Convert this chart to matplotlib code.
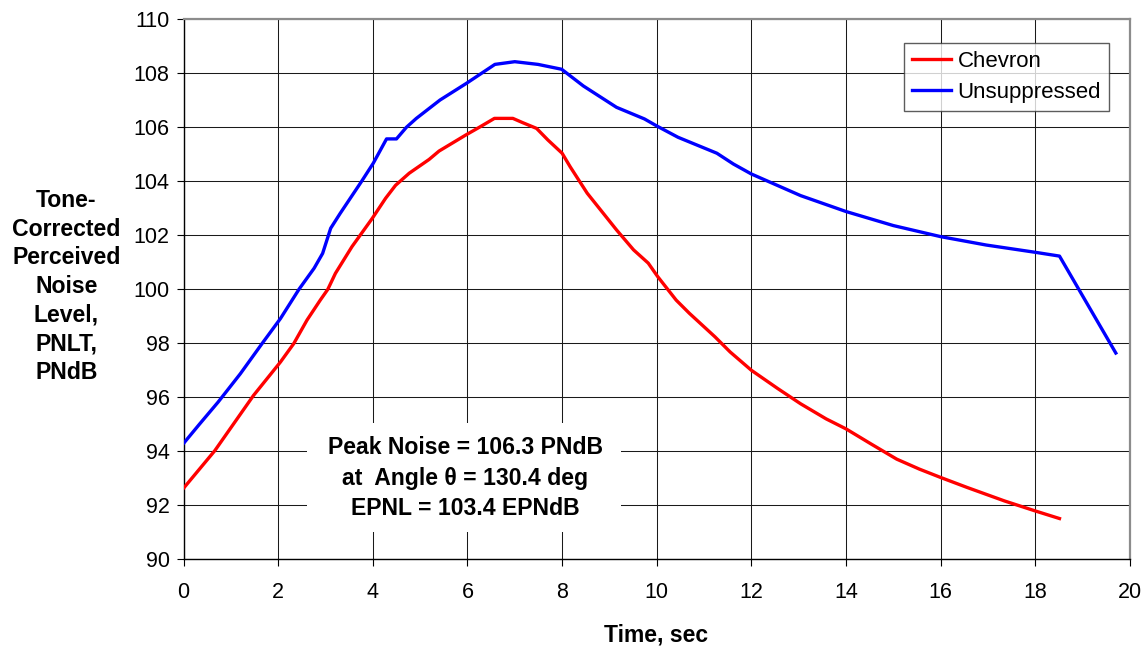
import matplotlib
matplotlib.use("Agg")
import matplotlib.pyplot as plt
from matplotlib.patches import Rectangle

plt.rcParams['font.family'] = ['Liberation Sans', 'DejaVu Sans']

# Chevron nozzle: time (s) vs PNLT (PNdB)
chevron_t = [0.0, 0.66, 1.48, 2.05, 2.33, 2.61, 2.89, 3.05, 3.21, 3.56, 3.99, 4.27,
             4.48, 4.77, 5.19, 5.40, 5.97, 6.25, 6.57, 6.96, 7.17, 7.46, 7.70, 8.0,
             8.17, 8.53, 9.15, 9.51, 9.82, 10.02, 10.41, 10.69, 11.23, 11.55, 12.0,
             12.56, 13.04, 13.58, 14.0, 14.53, 15.07, 15.55, 16.0, 16.56, 17.35,
             18.0, 18.51]
chevron_pnlt = [92.63, 94.02, 96.07, 97.31, 97.99, 98.86, 99.6, 100.0, 100.59, 101.58,
                102.63, 103.37, 103.85, 104.3, 104.81, 105.12, 105.72, 106.0, 106.33,
                106.33, 106.17, 105.96, 105.53, 105.04, 104.54, 103.56, 102.2, 101.46,
                100.97, 100.47, 99.6, 99.11, 98.24, 97.68, 97.0, 96.32, 95.76, 95.2,
                94.83, 94.27, 93.71, 93.34, 93.03, 92.66, 92.16, 91.79, 91.51]

# Unsuppressed (baseline) nozzle
unsup_t = [0.0, 0.34, 0.73, 1.2, 1.66, 2.05, 2.44, 2.76, 2.94, 3.11, 3.31, 3.76, 4.01,
           4.29, 4.50, 4.71, 4.92, 5.42, 5.98, 6.58, 7.0, 7.49, 7.99, 8.45, 9.15,
           9.74, 10.0, 10.45, 11.27, 11.62, 12.0, 13.04, 14.0, 15.0, 16.0, 16.96,
           18.0, 18.51, 19.70]
unsup_pnlt = [94.29, 95.01, 95.82, 96.87, 97.99, 98.92, 100.0, 100.78, 101.33, 102.26,
              102.81, 103.99, 104.67, 105.57, 105.57, 106.0, 106.33, 107.01, 107.63,
              108.33, 108.43, 108.33, 108.15, 107.53, 106.74, 106.31, 106.05, 105.63,
              105.04, 104.64, 104.27, 103.47, 102.88, 102.36, 101.95, 101.64, 101.37,
              101.23, 97.64]

x_ticks = list(range(0, 21, 2))
y_ticks = list(range(90, 111, 2))

ylabel_lines = ["Tone-", "Corrected", "Perceived", "Noise", "Level,", "PNLT,", "PNdB"]
note_lines = ["Peak Noise = 106.3 PNdB",
              "at  Angle \u03b8 = 130.4 deg",
              "EPNL = 103.4 EPNdB"]

W, H = 1146, 646
fig = plt.figure(figsize=(W / 100, H / 100), dpi=100)
ax = fig.add_axes([183.5 / W, 1 - 559.3 / H, 946.5 / W, 540 / H])

ax.plot(chevron_t, chevron_pnlt, color='#FF0000', lw=2.4, label='Chevron', zorder=4)
ax.plot(unsup_t, unsup_pnlt, color='#0000FF', lw=2.4, label='Unsuppressed', zorder=4)

ax.set_xlim(0, 20)
ax.set_ylim(90, 110)
ax.set_xticks(x_ticks)
ax.set_yticks(y_ticks)
ax.grid(True, color='#1a1a1a', lw=0.75, zorder=1)
ax.set_axisbelow(True)

ax.tick_params(axis='both', direction='out', length=5, width=0.8, color='black',
               labelsize=15.5)
ax.tick_params(axis='x', pad=11)
ax.tick_params(axis='y', pad=5)

for s in ('left', 'bottom'):
    ax.spines[s].set_color('black')
    ax.spines[s].set_linewidth(1.0)
for s in ('top', 'right'):
    ax.spines[s].set_color('#8c8c8c')
    ax.spines[s].set_linewidth(1.6)

# white panel behind the summary text
ax.add_patch(Rectangle((123.5 / 946.5, 27.3 / 540), 314 / 946.5, 109 / 540,
                       transform=ax.transAxes, facecolor='white', edgecolor='none',
                       zorder=2))
for i, line in enumerate(note_lines):
    base_px = 454.3 + i * 30.3
    ax.text((465 - 183.5) / 946.5, (559.3 - base_px) / 540, line,
            transform=ax.transAxes, ha='center', va='baseline',
            fontsize=16.6, fontweight='bold', zorder=3)

leg = ax.legend(loc='upper right', bbox_to_anchor=((1109 - 183.5) / 946.5, (559.3 - 43) / 540),
                borderaxespad=0, fontsize=16, frameon=True, fancybox=False,
                handlelength=1.75, handletextpad=0.3, labelspacing=0.45,
                borderpad=0.35)
leg.get_frame().set_edgecolor('#333333')
leg.get_frame().set_linewidth(1.0)
leg.set_zorder(5)

for i, line in enumerate(ylabel_lines):
    base_px = 207 + i * 28.6
    fig.text(66.5 / W, 1 - base_px / H, line, ha='center', va='baseline',
             fontsize=16.6, fontweight='bold')

fig.text(656 / W, 1 - 641.5 / H, "Time, sec", ha='center', va='baseline',
         fontsize=16.5, fontweight='bold')

fig.savefig('out.png', dpi=100, facecolor='white')
